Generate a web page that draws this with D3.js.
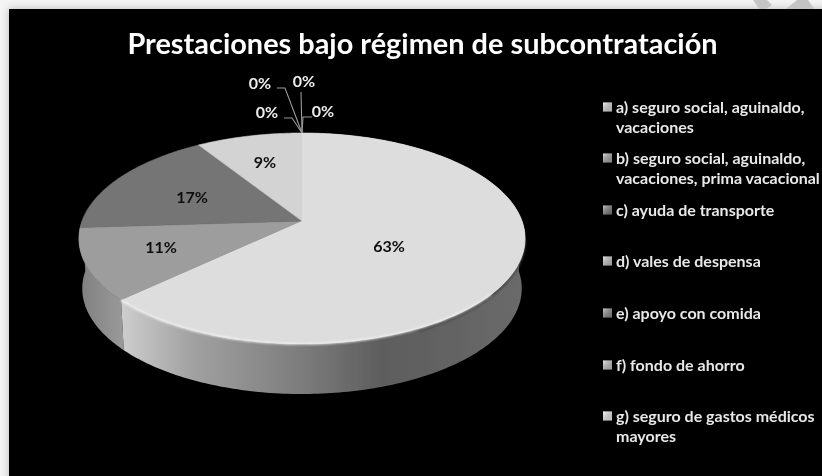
<!DOCTYPE html>
<html>
<head>
<meta charset="utf-8">
<script src="https://cdn.jsdelivr.net/npm/d3@7/dist/d3.min.js"></script>
<style>
html, body { margin: 0; padding: 0; background: #f4f4f4; overflow: hidden; }
text { font-family: Lato, "Open Sans", sans-serif; font-weight: 700; }
</style>
</head>
<body>
<div id="chart"></div>
<script>
var titleText = "Prestaciones bajo régimen de subcontratación";

// the picture has four 0% labels, one more than the legend has zero categories
var sliceValues = [63, 11, 17, 9, 0, 0, 0, 0];
var sliceLabels = ["63%", "11%", "17%", "9%", "0%", "0%", "0%", "0%"];
var sliceColors = ["#dddddd", "#9d9d9d", "#757575", "#d3d3d3"];

var legendLines = [
    ["a) seguro social, aguinaldo,", "vacaciones"],
    ["b) seguro social, aguinaldo,", "vacaciones, prima vacacional"],
    ["c) ayuda de transporte"],
    ["d) vales de despensa"],
    ["e) apoyo con comida"],
    ["f) fondo de ahorro"],
    ["g) seguro de gastos médicos", "mayores"]
];
var legendColors = ["#dcdcdc", "#a8a8a8", "#7c7c7c", "#c8c8c8", "#8c8c8c", "#c8c8c8", "#f2f2f2"];

var width = 822,
    height = 476;

var svg = d3.select("#chart").append("svg")
    .attr("width", width)
    .attr("height", height)
    .style("display", "block");

var defs = svg.append("defs");

defs.append("filter").attr("id", "soft")
  .append("feGaussianBlur").attr("stdDeviation", 0.5);
defs.append("filter").attr("id", "edge")
  .append("feGaussianBlur").attr("stdDeviation", 0.8);
defs.append("filter").attr("id", "shade")
  .append("feGaussianBlur").attr("stdDeviation", 4);

function sideGradient(id, stops) {
    var g = defs.append("linearGradient").attr("id", id)
        .attr("gradientUnits", "userSpaceOnUse")
        .attr("x1", 79).attr("x2", 525).attr("y1", 0).attr("y2", 0);
    stops.forEach(function(s) {
        g.append("stop").attr("offset", s[0]).attr("stop-color", s[1]);
    });
}
sideGradient("wallFront", [[0.09, "#cfcfcf"], [0.25, "#a2a2a2"], [0.5, "#7c7c7c"], [0.68, "#5d5d5d"], [1, "#6a6a6a"]]);
sideGradient("wallLeft", [[0, "#7f7f7f"], [0.1, "#9a9a9a"]]);

var legendShine = defs.append("linearGradient").attr("id", "shine")
    .attr("x1", 0).attr("x2", 1).attr("y1", 0).attr("y2", 1);
legendShine.append("stop").attr("offset", 0).attr("stop-color", "#fff").attr("stop-opacity", 0.55);
legendShine.append("stop").attr("offset", 1).attr("stop-color", "#000").attr("stop-opacity", 0.2);

// page edge and the black slide
svg.append("rect")
    .attr("x", 9).attr("y", 9)
    .attr("width", width).attr("height", height)
    .attr("fill", "#000")
    .attr("filter", "url(#shade)")
    .attr("opacity", 0.25);

// watermark scraps in the top right corner
var scraps = [[[753, 0], [767, 0], [772, 5], [765, 10], [760, 10]], [[785, 10], [797, 0], [808, 0], [815, 10]]];
svg.selectAll(".scrap").data(scraps).enter().append("path")
    .attr("class", "scrap")
    .attr("d", function(d) { return d3.line()(d) + "Z"; })
    .attr("fill", "#c4c4c4");

svg.append("rect")
    .attr("x", 9).attr("y", 9)
    .attr("width", width).attr("height", height)
    .attr("fill", "#000");

svg.append("text")
    .attr("x", 422.5).attr("y", 54)
    .attr("text-anchor", "middle")
    .attr("font-size", 28.9)
    .attr("fill", "#fff")
    .attr("filter", "url(#soft)")
    .text(titleText);

// perspective projection of the pie disc; k tilts the far side away
var cx = 302, cy = 221, rx = 220, ry = 102.6, k = 0.166, depth = 50;

function project(a, shrink, drop) {
    var u = Math.sin(a), v = -Math.cos(a), w = 1 - k * v;
    return [cx + rx * shrink * u / w, cy + ry * v / w + drop];
}
function topEdge(a) { return project(a, 1, 0); }
function bottomEdge(a) { return project(a, 0.985, depth); }

function samples(a0, a1) {
    var n = Math.max(2, Math.ceil((a1 - a0) * 60)), out = [];
    for (var i = 0; i <= n; i++) out.push(a0 + (a1 - a0) * i / n);
    return out;
}

var line = d3.line();
var pie = d3.pie().sort(null)(sliceValues);
var visible = pie.filter(function(d) { return d.value > 0; });

var disc = svg.append("g").attr("filter", "url(#soft)");

function wall(a0, a1, fill) {
    var s = samples(a0, a1);
    var pts = s.map(topEdge).concat(s.slice().reverse().map(bottomEdge));
    disc.append("path").attr("d", line(pts) + "Z").attr("fill", fill);
}

// only the front half of the rim shows
wall(pie[1].startAngle, Math.PI * 1.5, "url(#wallLeft)");
wall(Math.PI / 2, pie[0].endAngle, "url(#wallFront)");

// dark shading right under the rim on the right side
disc.append("path")
    .attr("d", line(samples(Math.PI * 0.55, Math.PI * 0.85).map(function(a) { return project(a, 0.995, 2); })))
    .attr("fill", "none").attr("stroke", "#4a4a4a").attr("stroke-width", 3)
    .attr("filter", "url(#edge)");

disc.selectAll(".slice").data(visible).enter().append("path")
    .attr("class", "slice")
    .attr("d", function(d) {
        return line([[cx, cy]].concat(samples(d.startAngle, d.endAngle).map(topEdge))) + "Z";
    })
    .attr("fill", function(d, i) { return sliceColors[i]; })
    .attr("stroke", function(d, i) { return sliceColors[i]; })
    .attr("stroke-width", 0.6);

// the big slice goes on last so its edge wins over the seam with its neighbour
disc.append("path")
    .attr("d", line([[cx, cy]].concat(samples(pie[0].startAngle, pie[0].endAngle).map(topEdge))) + "Z")
    .attr("fill", sliceColors[0]);

// bevel highlight along the front rim
disc.append("path")
    .attr("d", line(samples(Math.PI * 0.72, pie[0].endAngle).map(topEdge)))
    .attr("fill", "none").attr("stroke", "#fff").attr("stroke-width", 1.2)
    .attr("filter", "url(#edge)");

// label positions
var labelX = d3.scaleOrdinal().domain(d3.range(sliceLabels.length)).range([389, 161, 192, 265, 323, 267, 260, 304]);
var labelY = d3.scaleOrdinal().domain(d3.range(sliceLabels.length)).range([252, 253, 203, 168, 117, 118, 89, 87]);

var leaders = [
    [[302, 133], [303, 117], [312, 117]],
    [[302, 133], [292, 118], [284, 118]],
    [[302, 133], [285, 88], [277, 88]],
    [[302, 133], [301, 92]]
];
svg.append("g").attr("filter", "url(#soft)")
    .selectAll("path").data(leaders).enter().append("path")
    .attr("d", line)
    .attr("fill", "none")
    .attr("stroke", "#9a9a9a")
    .attr("stroke-width", 1.1);

svg.append("g").attr("filter", "url(#soft)")
    .selectAll("text").data(sliceLabels).enter().append("text")
    .attr("x", function(d, i) { return labelX(i); })
    .attr("y", function(d, i) { return labelY(i); })
    .attr("text-anchor", "middle")
    .attr("font-size", 16)
    .attr("fill", function(d, i) { return i < 4 ? "#111" : "#eee"; })
    .text(function(d) { return d; });

// legend
var legendRows = [107, 158, 210, 261, 313, 365, 416];

var legend = svg.append("g").attr("filter", "url(#soft)")
    .selectAll("g").data(legendLines).enter().append("g")
    .attr("transform", function(d, i) { return "translate(603," + legendRows[i] + ")"; });

legend.append("rect")
    .attr("x", 0).attr("y", -4.5).attr("width", 9).attr("height", 9)
    .attr("fill", function(d, i) { return legendColors[i]; });
legend.append("rect")
    .attr("x", 0).attr("y", -4.5).attr("width", 9).attr("height", 9)
    .attr("fill", "url(#shine)");

legend.each(function(lines) {
    d3.select(this).selectAll("text").data(lines).enter().append("text")
        .attr("x", 13)
        .attr("y", function(d, i) { return 6 + i * 20; })
        .attr("font-size", 16)
        .attr("fill", "#e8e8e8")
        .text(function(d) { return d; });
});
</script>
</body>
</html>
